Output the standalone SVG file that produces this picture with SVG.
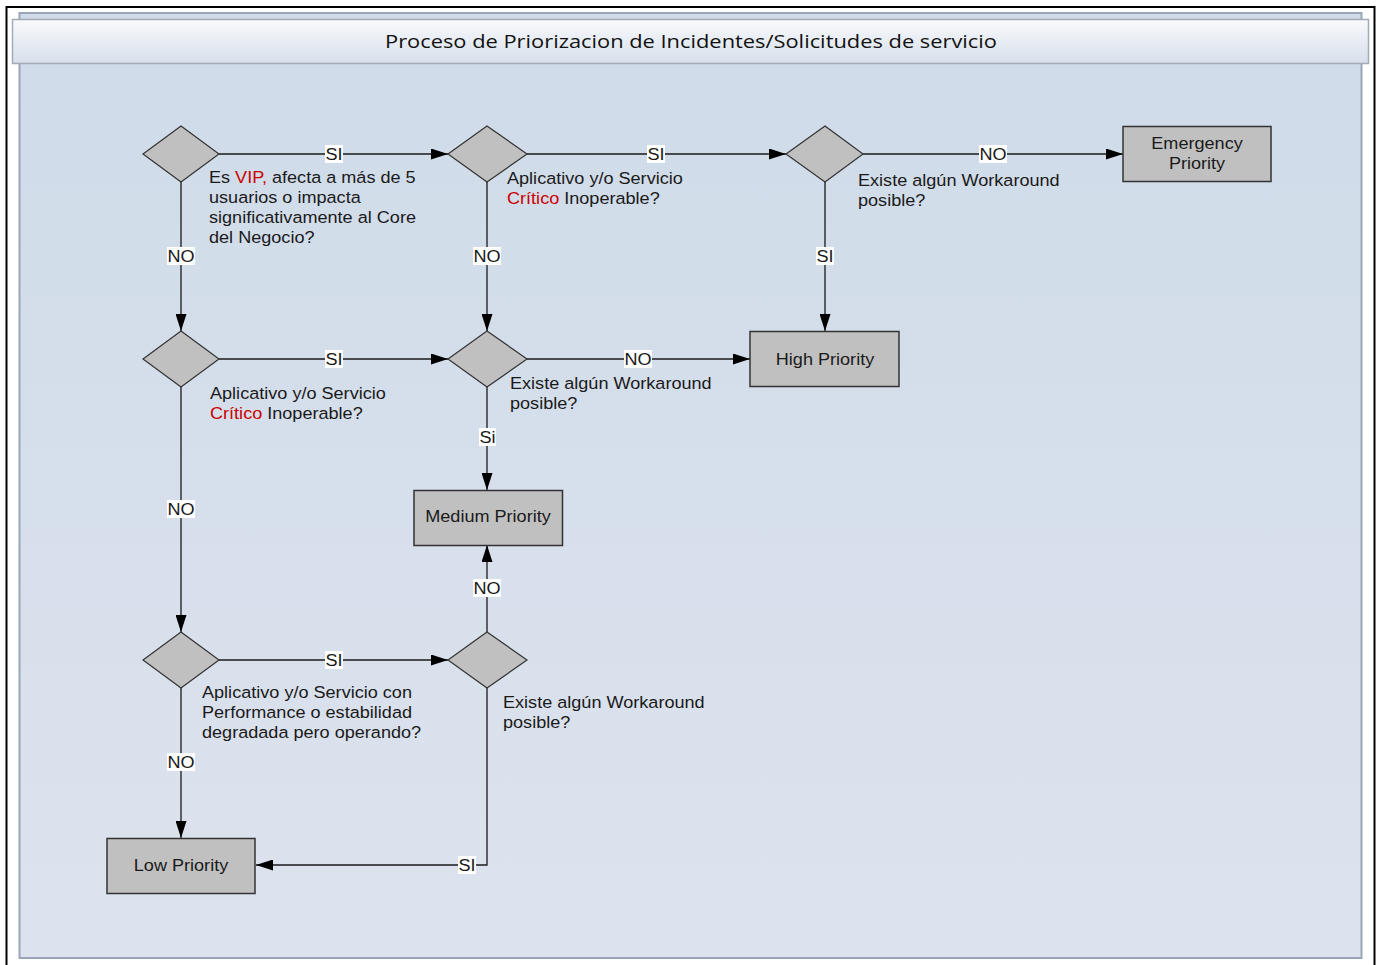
<svg xmlns="http://www.w3.org/2000/svg" width="1378" height="965" viewBox="0 0 1378 965">
<defs>
<linearGradient id="panelG" x1="0" y1="0" x2="0" y2="1">
<stop offset="0" stop-color="#cfdbe9"/>
<stop offset="1" stop-color="#dde3ee"/>
</linearGradient>
<linearGradient id="titleG" x1="0" y1="0" x2="0" y2="1">
<stop offset="0" stop-color="#f9fafc"/>
<stop offset="1" stop-color="#d6dfeb"/>
</linearGradient>
<marker id="arr" markerUnits="userSpaceOnUse" markerWidth="17" markerHeight="11" refX="17" refY="5.5" orient="auto">
<path d="M0,0 L17,5.5 L0,11 z" fill="#000"/>
</marker>
<style>
.dia{fill:#c0c0c0;stroke:#333;stroke-width:1.2}
.box{fill:#c0c0c0;stroke:#333;stroke-width:1.5}
.con{fill:none;stroke:#1a1a1a;stroke-width:1.3;marker-end:url(#arr)}
.t{font-family:"Liberation Sans",Arial,sans-serif;font-size:16.3px;fill:#1a1a1a}
.c{text-anchor:middle}
.red{fill:#cc0000}
.lb{fill:#fff}
</style>
</defs>
<rect x="6.5" y="7" width="1368" height="975" fill="#fff" stroke="#000" stroke-width="2"/>
<rect x="19.5" y="13" width="1342" height="945" fill="url(#panelG)" stroke="#9aa6b6" stroke-width="2"/>
<rect x="12.5" y="19.5" width="1356" height="44" fill="url(#titleG)" stroke="#a3abb6" stroke-width="1.5"/>
<text x="385" y="47.5" font-family="'Open Sans','Noto Sans',sans-serif" font-size="18.5" fill="#111" textLength="612" lengthAdjust="spacingAndGlyphs">Proceso de Priorizacion de Incidentes/Solicitudes de servicio</text>

<g id="connectors">
<path class="con" d="M219,154 H448"/>
<path class="con" d="M527,154 H786"/>
<path class="con" d="M863,154 H1123"/>
<path class="con" d="M181,181 V331"/>
<path class="con" d="M487,182 V331"/>
<path class="con" d="M825,181 V331"/>
<path class="con" d="M219,359 H448"/>
<path class="con" d="M527,359 H750"/>
<path class="con" d="M487,387 V490"/>
<path class="con" d="M181,387 V632"/>
<path class="con" d="M219,660 H448"/>
<path class="con" d="M487,632 V545"/>
<path class="con" d="M181,688 V838"/>
<path class="con" d="M487,688 V865 H256"/>
<g id="labels">
<rect class="lb" x="325" y="145" width="18" height="18"/><text class="t c" transform="translate(334,160) scale(1.11,1)">SI</text>
<rect class="lb" x="647" y="145" width="18" height="18"/><text class="t c" transform="translate(656,160) scale(1.11,1)">SI</text>
<rect class="lb" x="979" y="145" width="28" height="18"/><text class="t c" transform="translate(993,160) scale(1.11,1)">NO</text>
<rect class="lb" x="167" y="247" width="28" height="18"/><text class="t c" transform="translate(181,262) scale(1.11,1)">NO</text>
<rect class="lb" x="473" y="247" width="28" height="18"/><text class="t c" transform="translate(487,262) scale(1.11,1)">NO</text>
<rect class="lb" x="816" y="247" width="18" height="18"/><text class="t c" transform="translate(825,262) scale(1.11,1)">SI</text>
<rect class="lb" x="325" y="350" width="18" height="18"/><text class="t c" transform="translate(334,365) scale(1.11,1)">SI</text>
<rect class="lb" x="624" y="350" width="28" height="18"/><text class="t c" transform="translate(638,365) scale(1.11,1)">NO</text>
<rect class="lb" x="479" y="428" width="17" height="18"/><text class="t c" transform="translate(487.5,443) scale(1.11,1)">Si</text>
<rect class="lb" x="167" y="500" width="28" height="18"/><text class="t c" transform="translate(181,515) scale(1.11,1)">NO</text>
<rect class="lb" x="325" y="651" width="18" height="18"/><text class="t c" transform="translate(334,666) scale(1.11,1)">SI</text>
<rect class="lb" x="473" y="579" width="28" height="18"/><text class="t c" transform="translate(487,594) scale(1.11,1)">NO</text>
<rect class="lb" x="167" y="753" width="28" height="18"/><text class="t c" transform="translate(181,768) scale(1.11,1)">NO</text>
<rect class="lb" x="458" y="856" width="18" height="18"/><text class="t c" transform="translate(467,871) scale(1.11,1)">SI</text>
</g>
</g>

<g id="d1">
<polygon class="dia" points="181,126 219,154 181,182 143,154"/>
<text class="t" transform="translate(209,183) scale(1.11,1)"><tspan>Es </tspan><tspan class="red">VIP,</tspan><tspan> afecta a más de 5</tspan><tspan x="0" y="20">usuarios o impacta</tspan><tspan x="0" y="40">significativamente al Core</tspan><tspan x="0" y="60">del Negocio?</tspan></text>
</g>
<g id="d2">
<polygon class="dia" points="487,126 527,154 487,182 448,154"/>
<text class="t" transform="translate(507,184) scale(1.11,1)"><tspan>Aplicativo y/o Servicio</tspan><tspan x="0" y="20" class="red">Crítico</tspan><tspan> Inoperable?</tspan></text>
</g>
<g id="d3">
<polygon class="dia" points="825,126 863,154 825,182 786,154"/>
<text class="t" transform="translate(858,186) scale(1.11,1)"><tspan>Existe algún Workaround</tspan><tspan x="0" y="20">posible?</tspan></text>
</g>
<g id="d4">
<polygon class="dia" points="181,331 219,359 181,387 143,359"/>
<text class="t" transform="translate(210,399) scale(1.11,1)"><tspan>Aplicativo y/o Servicio</tspan><tspan x="0" y="20" class="red">Crítico</tspan><tspan> Inoperable?</tspan></text>
</g>
<g id="d5">
<polygon class="dia" points="487,331 527,359 487,387 448,359"/>
<text class="t" transform="translate(510,389) scale(1.11,1)"><tspan>Existe algún Workaround</tspan><tspan x="0" y="20">posible?</tspan></text>
</g>
<g id="d6">
<polygon class="dia" points="181,632 219,660 181,688 143,660"/>
<text class="t" transform="translate(202,698) scale(1.11,1)"><tspan>Aplicativo y/o Servicio con</tspan><tspan x="0" y="20">Performance o estabilidad</tspan><tspan x="0" y="40">degradada pero operando?</tspan></text>
</g>
<g id="d7">
<polygon class="dia" points="487,632 527,660 487,688 448,660"/>
<text class="t" transform="translate(503,708) scale(1.11,1)"><tspan>Existe algún Workaround</tspan><tspan x="0" y="20">posible?</tspan></text>
</g>

<g id="emergency">
<rect class="box" x="1123" y="126.5" width="148" height="55"/>
<text class="t c" transform="translate(1197,149) scale(1.11,1)"><tspan x="0">Emergency</tspan><tspan x="0" y="20">Priority</tspan></text>
</g>
<g id="high">
<rect class="box" x="750" y="331.5" width="149" height="55"/>
<text class="t c" transform="translate(825,365) scale(1.11,1)">High Priority</text>
</g>
<g id="medium">
<rect class="box" x="414" y="490.5" width="148.5" height="55"/>
<text class="t c" transform="translate(488,522) scale(1.11,1)">Medium Priority</text>
</g>
<g id="low">
<rect class="box" x="107" y="838.5" width="148" height="55"/>
<text class="t c" transform="translate(181,871) scale(1.11,1)">Low Priority</text>
</g>
</svg>
